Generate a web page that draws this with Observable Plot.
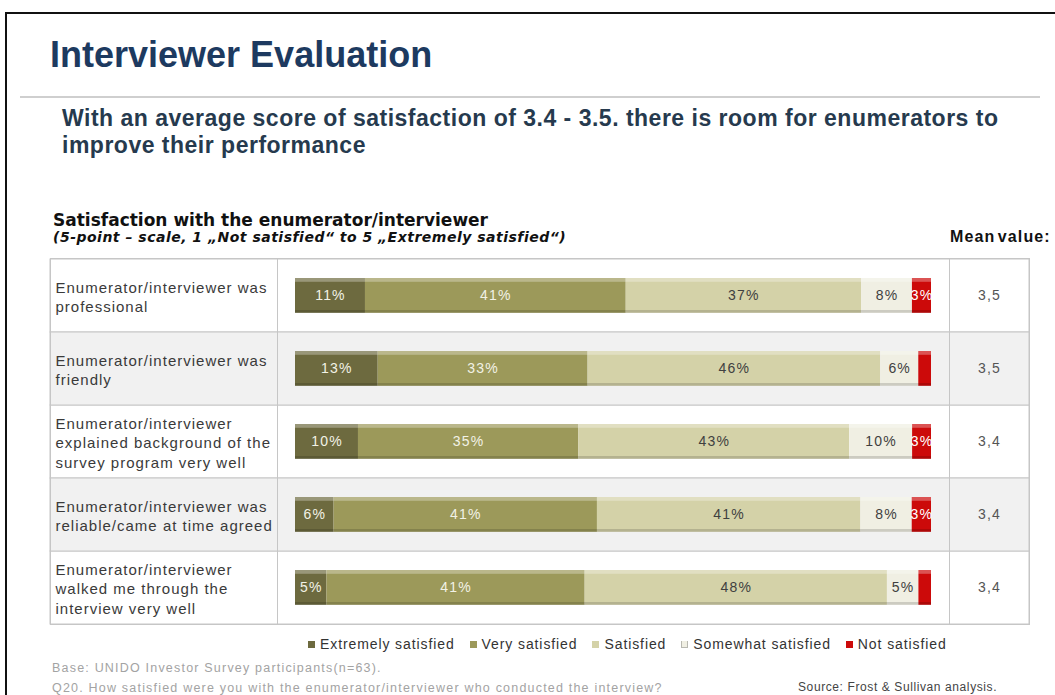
<!DOCTYPE html>
<html><head><meta charset="utf-8">
<script src="https://cdn.jsdelivr.net/npm/d3@7"></script>
<script src="https://cdn.jsdelivr.net/npm/@observablehq/plot@0.6"></script>
<style>
body{margin:0;background:#fff;font-family:"Liberation Sans",Arial,sans-serif;}
#page{position:relative;width:1055px;height:695px;overflow:hidden;background:#fff;}
.abs{position:absolute;white-space:nowrap;line-height:1;}
#chart{position:absolute;left:0;top:250px;}
#chart svg text{letter-spacing:1.2px;}
#chart svg g.rowlabels text{letter-spacing:1px;}
#legend{position:absolute;left:308px;top:637px;display:flex;align-items:center;font-size:14px;letter-spacing:0.9px;color:#333;line-height:1;}
#legend .sw{width:7px;height:7px;display:inline-block;margin-right:5px;box-sizing:border-box;}
#legend .it{display:flex;align-items:center;margin-right:15px;}
</style></head><body><div id="page">
<div class="abs" style="left:5px;top:12px;width:1100px;height:700px;border-left:2px solid #111;border-top:2px solid #111;z-index:5;"></div>
<div class="abs" style="left:50px;top:37px;font-size:36px;font-weight:bold;color:#1d3a60;">Interviewer Evaluation</div>
<div class="abs" style="left:20px;top:96px;width:1020px;height:2px;background:#cfcfcf"></div>
<div class="abs" style="left:62px;top:105px;font-size:23px;font-weight:bold;color:#263a4e;line-height:27px;letter-spacing:0.5px;">With an average score of satisfaction of 3.4 - 3.5. there is room for enumerators to<br>improve their performance</div>
<div class="abs" style="left:53px;top:212px;font-family:'DejaVu Sans',sans-serif;font-size:17px;font-weight:bold;color:#111;">Satisfaction with the enumerator/interviewer</div>
<div class="abs" style="left:53px;top:230px;font-family:'DejaVu Sans',sans-serif;font-size:14px;font-weight:bold;font-style:italic;color:#111;letter-spacing:0.5px;">(5-point – scale, 1 „Not satisfied“ to 5 „Extremely satisfied“)</div>
<div class="abs" style="left:950px;top:229px;font-size:16px;font-weight:bold;color:#111;letter-spacing:1.1px;word-spacing:-3px;">Mean value:</div>
<div id="chart"></div>
<div id="legend"></div>
<div class="abs" style="left:52px;top:662px;font-size:12.5px;color:#a3a3a3;letter-spacing:1.2px;">Base: UNIDO Investor Survey participants(n=63).</div>
<div class="abs" style="left:52px;top:682px;font-size:12.5px;color:#a3a3a3;letter-spacing:1.2px;">Q20. How satisfied were you with the enumerator/interviewer who conducted the interview?</div>
<div class="abs" style="left:798px;top:681px;font-size:12px;color:#444;letter-spacing:0.6px;">Source: Frost &amp; Sullivan analysis.</div>
</div>
<script>
const questions = [
  "Enumerator/interviewer was\nprofessional",
  "Enumerator/interviewer was\nfriendly",
  "Enumerator/interviewer\nexplained background of the\nsurvey program very well",
  "Enumerator/interviewer was\nreliable/came at time agreed",
  "Enumerator/interviewer\nwalked me through the\ninterview very well"
];
const series = ["Extremely satisfied","Very satisfied","Satisfied","Somewhat satisfied","Not satisfied"];
const extremely    = [11, 13, 10, 6, 5];
const very         = [41, 33, 35, 41, 41];
const satisfied    = [37, 46, 43, 41, 48];
const somewhat     = [8, 6, 10, 8, 5];
const notSatisfied = [3, 2, 3, 3, 2];
const means = ["3,5","3,5","3,4","3,4","3,4"];
const colors = ["#6d6a3f","#9c995a","#d4d2a8","#f0efe3","#cc0a0a"];

const seriesValues = [extremely, very, satisfied, somewhat, notSatisfied];
const data = questions.flatMap((q,i)=>series.map((s,j)=>({q, series:s, value:seriesValues[j][i]})));
const rows = questions.map((q,i)=>({q, mean:means[i], shade:i%2===1}));

const st = {x:"value", y:"q", z:"series", offset:"normalize"};
const band = 366/5;
const inT = 19, inB = band - 19 - 35;
const isLight = d => d.series==="Extremely satisfied" || d.series==="Very satisfied";
const isDark = d => d.series==="Satisfied" || d.series==="Somewhat satisfied";
const isRed = d => d.series==="Not satisfied" && d.value>=3;

const chart = Plot.plot({
  width:1055, height:382, marginTop:8, marginBottom:8, marginLeft:50, marginRight:26,
  x:{domain:[0,1], range:[295,931], axis:null},
  y:{domain:questions, padding:0, axis:null},
  color:{domain:series, range:colors},
  style:{fontFamily:"'Liberation Sans', Arial, sans-serif", fontSize:"14px", background:"none", overflow:"visible"},
  marks:[
    Plot.cell(rows.filter(d=>!d.shade),{y:"q", fill:"#ffffff", stroke:"#c6c6c6"}),
    Plot.cell(rows.filter(d=>d.shade),{y:"q", fill:"#f1f1f1", stroke:"#c6c6c6"}),
    Plot.ruleX([0],{dx:-18, stroke:"#c6c6c6"}),
    Plot.ruleX([1],{dx:18, stroke:"#c6c6c6"}),
    Plot.frame({stroke:"#c6c6c6"}),
    Plot.barX(data, Plot.stackX({...st, fill:"series", insetTop:inT, insetBottom:inB})),
    Plot.barX(data, Plot.stackX({...st, fill:"#ffffff", fillOpacity:0.3, insetTop:inT, insetBottom:band-inT-4})),
    Plot.barX(data, Plot.stackX({...st, fill:"#000000", fillOpacity:0.15, insetTop:band-inB-3, insetBottom:inB})),
    Plot.ruleX(data, Plot.stackX2({...st, stroke:"#000000", strokeOpacity:0.18, strokeWidth:1.5, insetTop:inT, insetBottom:inB, dx:-1})),
    Plot.text(data, Plot.stackX({...st, text:d=>isLight(d)?d.value+"%":"", fill:"#f2f2e6", fontSize:14})),
    Plot.text(data, Plot.stackX({...st, text:d=>isDark(d)?d.value+"%":"", fill:"#404040", fontSize:14})),
    Plot.text(data, Plot.stackX({...st, text:d=>isRed(d)?d.value+"%":"", fill:"#ffffff", fontSize:14})),
    Plot.text(rows,{y:"q", text:"q", frameAnchor:"left", textAnchor:"start", dx:5, lineHeight:1.3, fill:"#3a3a3a", fontSize:15, className:"rowlabels"}),
    Plot.text(rows,{y:"q", text:"mean", frameAnchor:"right", textAnchor:"middle", dx:-40, fill:"#555555", fontSize:14})
  ]
});
document.getElementById("chart").appendChild(chart);

const legend = document.getElementById("legend");
series.forEach((s,j)=>{
  const it = document.createElement("div"); it.className="it";
  const sw = document.createElement("span"); sw.className="sw";
  sw.style.background = colors[j];
  if (j===3) { sw.style.border="1px solid #b8b8b0"; sw.style.borderTop="none"; }
  const tx = document.createElement("span"); tx.textContent = s;
  it.appendChild(sw); it.appendChild(tx); legend.appendChild(it);
});
</script>
</body></html>
